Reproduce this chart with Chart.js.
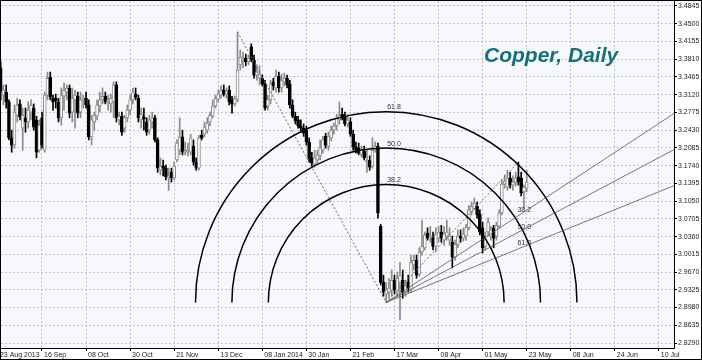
<!DOCTYPE html>
<html>
<head>
<meta charset="utf-8">
<script src="https://cdn.jsdelivr.net/npm/chart.js@4.4.0/dist/chart.umd.min.js"></script>
<style>
html, body { margin: 0; padding: 0; background: #fff; }
#wrap { width: 700px; height: 358px; border: 1px solid #000; }
</style>
</head>
<body>
<div id="wrap"><canvas id="copperDaily" width="700" height="358"></canvas></div>
<script>
// daily bars, numbered from firstBar (bar 0 = 23 Aug 2013)
var firstBar = 1;

var copperOpen = [
3.364, 3.311, 3.317, 3.298, 3.228, 3.214, 3.272, 3.294, 3.247, 3.267,
3.259, 3.278, 3.286, 3.263, 3.204, 3.267, 3.204, 3.311, 3.346, 3.305,
3.305, 3.298, 3.267, 3.309, 3.317, 3.325, 3.278, 3.302, 3.309, 3.278,
3.302, 3.305, 3.292, 3.230, 3.259, 3.270, 3.290, 3.302, 3.309, 3.298,
3.294, 3.298, 3.331, 3.263, 3.270, 3.247, 3.267, 3.282, 3.302, 3.313,
3.305, 3.263, 3.269, 3.259, 3.243, 3.259, 3.267, 3.224, 3.165, 3.173,
3.169, 3.150, 3.161, 3.150, 3.185, 3.204, 3.230, 3.200, 3.200, 3.200,
3.212, 3.181, 3.169, 3.233, 3.235, 3.243, 3.259, 3.270, 3.290, 3.303,
3.311, 3.321, 3.313, 3.321, 3.302, 3.294, 3.302, 3.370, 3.379, 3.383,
3.376, 3.405, 3.379, 3.350, 3.344, 3.344, 3.333, 3.290, 3.302, 3.337,
3.325, 3.348, 3.325, 3.337, 3.344, 3.333, 3.292, 3.270, 3.263, 3.251,
3.247, 3.243, 3.220, 3.189, 3.177, 3.185, 3.193, 3.204, 3.231, 3.212,
3.228, 3.243, 3.251, 3.263, 3.274, 3.270, 3.255, 3.259, 3.235, 3.210,
3.208, 3.196, 3.202, 3.181, 3.185, 3.173, 3.204, 3.212, 3.056, 2.947,
2.924, 2.928, 2.932, 2.951, 2.928, 2.947, 2.951, 2.928, 2.947, 2.932,
2.981, 2.990, 2.963, 3.006, 3.014, 3.043, 3.033, 3.033, 3.017, 3.033,
3.045, 3.029, 3.037, 3.029, 3.025, 2.996, 3.021, 3.037, 3.033, 3.037,
3.053, 3.084, 3.091, 3.095, 3.080, 3.053, 3.017, 3.045, 3.037, 3.053,
3.037, 3.056, 3.082, 3.138, 3.132, 3.150, 3.136, 3.142, 3.152, 3.150,
3.123, 3.130
];

var copperHigh = [
3.376, 3.331, 3.331, 3.302, 3.243, 3.292, 3.305, 3.302, 3.286, 3.286,
3.298, 3.302, 3.294, 3.270, 3.263, 3.278, 3.317, 3.356, 3.356, 3.311,
3.313, 3.305, 3.325, 3.335, 3.331, 3.331, 3.325, 3.321, 3.317, 3.317,
3.311, 3.317, 3.302, 3.272, 3.278, 3.302, 3.317, 3.325, 3.317, 3.311,
3.313, 3.337, 3.337, 3.278, 3.278, 3.272, 3.292, 3.311, 3.325, 3.325,
3.311, 3.286, 3.286, 3.267, 3.272, 3.278, 3.272, 3.228, 3.189, 3.185,
3.175, 3.169, 3.169, 3.181, 3.224, 3.267, 3.243, 3.220, 3.218, 3.235,
3.224, 3.189, 3.233, 3.243, 3.259, 3.267, 3.278, 3.302, 3.311, 3.321,
3.329, 3.331, 3.325, 3.329, 3.309, 3.309, 3.434, 3.399, 3.395, 3.391,
3.389, 3.411, 3.389, 3.370, 3.368, 3.350, 3.340, 3.311, 3.340, 3.344,
3.360, 3.356, 3.352, 3.354, 3.350, 3.340, 3.302, 3.278, 3.270, 3.263,
3.255, 3.251, 3.228, 3.200, 3.204, 3.204, 3.224, 3.231, 3.237, 3.239,
3.251, 3.257, 3.274, 3.298, 3.286, 3.278, 3.274, 3.267, 3.243, 3.220,
3.218, 3.212, 3.212, 3.204, 3.193, 3.228, 3.220, 3.218, 3.060, 2.961,
2.947, 2.955, 2.971, 2.961, 2.967, 2.986, 2.971, 2.951, 2.961, 3.000,
3.000, 3.000, 3.014, 3.068, 3.045, 3.053, 3.056, 3.045, 3.053, 3.056,
3.058, 3.056, 3.068, 3.053, 3.037, 3.029, 3.049, 3.049, 3.053, 3.060,
3.097, 3.103, 3.111, 3.103, 3.088, 3.064, 3.045, 3.072, 3.056, 3.058,
3.064, 3.088, 3.146, 3.156, 3.165, 3.161, 3.154, 3.161, 3.181, 3.161,
3.136, 3.165
];

var copperLow = [
3.302, 3.292, 3.286, 3.224, 3.200, 3.208, 3.259, 3.263, 3.204, 3.239,
3.247, 3.263, 3.243, 3.189, 3.200, 3.208, 3.200, 3.302, 3.302, 3.282,
3.286, 3.259, 3.253, 3.282, 3.302, 3.267, 3.259, 3.247, 3.267, 3.267,
3.286, 3.286, 3.224, 3.214, 3.243, 3.263, 3.278, 3.294, 3.294, 3.282,
3.278, 3.267, 3.259, 3.253, 3.233, 3.239, 3.259, 3.272, 3.294, 3.302,
3.259, 3.247, 3.243, 3.233, 3.235, 3.247, 3.220, 3.161, 3.156, 3.154,
3.146, 3.126, 3.142, 3.146, 3.181, 3.195, 3.195, 3.195, 3.193, 3.195,
3.175, 3.165, 3.165, 3.224, 3.230, 3.237, 3.251, 3.267, 3.286, 3.298,
3.305, 3.309, 3.305, 3.292, 3.276, 3.290, 3.298, 3.360, 3.364, 3.368,
3.370, 3.376, 3.344, 3.340, 3.331, 3.329, 3.282, 3.282, 3.294, 3.321,
3.317, 3.317, 3.317, 3.329, 3.325, 3.286, 3.267, 3.255, 3.247, 3.239,
3.231, 3.214, 3.181, 3.171, 3.171, 3.179, 3.185, 3.198, 3.208, 3.204,
3.222, 3.235, 3.243, 3.255, 3.263, 3.251, 3.249, 3.231, 3.204, 3.198,
3.195, 3.191, 3.185, 3.161, 3.165, 3.169, 3.200, 3.072, 2.942, 2.920,
2.908, 2.916, 2.920, 2.924, 2.920, 2.874, 2.916, 2.920, 2.928, 2.928,
2.971, 2.955, 2.959, 3.000, 3.010, 3.029, 3.025, 3.010, 3.006, 3.025,
3.025, 3.019, 3.029, 3.019, 2.975, 2.990, 3.015, 3.025, 3.027, 3.029,
3.049, 3.078, 3.088, 3.072, 3.039, 3.004, 3.010, 3.037, 3.029, 3.014,
3.029, 3.053, 3.078, 3.130, 3.126, 3.130, 3.126, 3.134, 3.136, 3.115,
3.091, 3.123
];

var copperClose = [
3.317, 3.321, 3.298, 3.228, 3.214, 3.278, 3.292, 3.269, 3.272, 3.259,
3.282, 3.292, 3.249, 3.200, 3.253, 3.214, 3.311, 3.344, 3.307, 3.298,
3.300, 3.267, 3.311, 3.321, 3.325, 3.276, 3.305, 3.311, 3.276, 3.302,
3.305, 3.292, 3.230, 3.263, 3.272, 3.292, 3.302, 3.309, 3.298, 3.302,
3.305, 3.331, 3.267, 3.270, 3.239, 3.267, 3.282, 3.302, 3.317, 3.307,
3.267, 3.274, 3.265, 3.239, 3.263, 3.267, 3.224, 3.169, 3.173, 3.169,
3.152, 3.154, 3.150, 3.173, 3.218, 3.230, 3.200, 3.204, 3.204, 3.228,
3.181, 3.169, 3.228, 3.228, 3.249, 3.257, 3.272, 3.290, 3.305, 3.313,
3.321, 3.313, 3.319, 3.298, 3.294, 3.305, 3.360, 3.385, 3.383, 3.376,
3.383, 3.379, 3.350, 3.356, 3.352, 3.333, 3.286, 3.302, 3.333, 3.329,
3.348, 3.325, 3.340, 3.344, 3.331, 3.292, 3.270, 3.261, 3.251, 3.247,
3.237, 3.220, 3.189, 3.179, 3.189, 3.195, 3.208, 3.224, 3.214, 3.231,
3.243, 3.251, 3.267, 3.272, 3.267, 3.255, 3.263, 3.235, 3.210, 3.204,
3.198, 3.204, 3.189, 3.185, 3.171, 3.204, 3.212, 3.082, 2.947, 2.928,
2.932, 2.936, 2.951, 2.932, 2.955, 2.961, 2.928, 2.940, 2.936, 2.986,
2.990, 2.961, 3.006, 3.017, 3.039, 3.033, 3.037, 3.017, 3.041, 3.045,
3.033, 3.041, 3.045, 3.037, 2.996, 3.021, 3.037, 3.033, 3.041, 3.054,
3.088, 3.095, 3.101, 3.078, 3.045, 3.014, 3.029, 3.064, 3.049, 3.033,
3.058, 3.082, 3.138, 3.144, 3.150, 3.136, 3.142, 3.150, 3.142, 3.121,
3.132, 3.142
];

// date labels, one every 16 bars starting at bar 0
var dateLabels = ["23 Aug 2013", "16 Sep", "08 Oct", "30 Oct", "21 Nov", "13 Dec", "08 Jan 2014", "30 Jan",
                  "21 Feb", "17 Mar", "08 Apr", "01 May", "23 May", "08 Jun", "24 Jun", "10 Jul"];
var barsPerLabel = 16;

var priceTicks = [2.8290, 2.8635, 2.8980, 2.9325, 2.9670, 3.0015, 3.0360, 3.0705, 3.1050, 3.1395,
                  3.1740, 3.2085, 3.2430, 3.2775, 3.3120, 3.3465, 3.3810, 3.4155, 3.4500, 3.4845];

// fibonacci tools: arcs from the Dec high to the Mar low, fan from the Mar low to the May high
var fiboLevels = [0.382, 0.5, 0.618];
var fiboNames = ["38.2", "50.0", "61.8"];
var arcHighBar = 87, arcLowBar = 141, fanHighBar = 189;

const tickFont = { family: '"Liberation Sans", Arial, sans-serif', size: 7 };

var wickData = [], bodyData = [], isUp = [];
for (var k = 0; k < copperOpen.length; k++) {
    wickData.push({ x: firstBar + k, y: [copperLow[k], copperHigh[k]] });
    bodyData.push({ x: firstBar + k, y: [copperOpen[k], copperClose[k]] });
    isUp.push(copperClose[k] >= copperOpen[k]);
}

const plotBackground = {
    id: 'plotBackground',
    beforeDraw(chart) {
        const { ctx, chartArea: a } = chart;
        ctx.save();
        ctx.fillStyle = '#f7f8fc';
        ctx.fillRect(a.left, a.top, a.right - a.left, a.bottom - a.top);
        ctx.restore();
    }
};

const fiboTools = {
    id: 'fiboTools',
    afterDatasetsDraw(chart) {
        const { ctx, chartArea: a } = chart;
        const xs = chart.scales.x, ys = chart.scales.y;
        const pt = (bar, price) => ({ x: xs.getPixelForValue(bar), y: ys.getPixelForValue(price) });
        const top = pt(arcHighBar, copperHigh[arcHighBar - firstBar]);
        const low = pt(arcLowBar, copperLow[arcLowBar - firstBar]);
        const fanTop = pt(fanHighBar, copperHigh[fanHighBar - firstBar]);

        function seg(p, q) { ctx.beginPath(); ctx.moveTo(p.x, p.y); ctx.lineTo(q.x, q.y); ctx.stroke(); }

        ctx.save();
        ctx.beginPath();
        ctx.rect(a.left, a.top, a.right - a.left, a.bottom - a.top);
        ctx.clip();

        ctx.strokeStyle = '#6a6a6a';
        ctx.lineWidth = 1;
        ctx.setLineDash([2, 2]);
        seg(top, low);
        seg(low, fanTop);
        ctx.setLineDash([]);

        ctx.font = '7px "Liberation Sans", Arial, sans-serif';
        ctx.fillStyle = '#333';
        ctx.textAlign = 'left';
        ctx.textBaseline = 'bottom';

        // arcs
        const r0 = Math.hypot(top.x - low.x, top.y - low.y);
        ctx.strokeStyle = '#000';
        ctx.lineWidth = 1.5;
        fiboLevels.forEach(function (lv, k) {
            const r = lv * r0;
            ctx.beginPath();
            ctx.arc(low.x, low.y, r, Math.PI, 2 * Math.PI);
            ctx.stroke();
            ctx.fillText(fiboNames[k], low.x + 1, low.y - r - 1);
        });

        // fan
        ctx.strokeStyle = '#555';
        ctx.lineWidth = 0.8;
        fiboLevels.forEach(function (lv, k) {
            const qx = fanTop.x, qy = fanTop.y + lv * (low.y - fanTop.y);
            const slope = (qy - low.y) / (qx - low.x);
            seg(low, { x: a.right, y: low.y + slope * (a.right - low.x) });
            ctx.fillText(fiboNames[k], qx - 1, qy - 2);
        });

        // title
        ctx.font = 'italic bold 21px "Liberation Sans", Arial, sans-serif';
        ctx.fillStyle = '#16707a';
        ctx.textBaseline = 'alphabetic';
        ctx.fillText('Copper, Daily', 483, 61);
        ctx.restore();
    }
};

var copperCtx = document.getElementById('copperDaily').getContext('2d');

var copperChart = new Chart(copperCtx, {
    type: 'bar',
    data: {
        datasets: [{
            data: wickData,
            grouped: false,
            order: 2,
            barThickness: 1,
            borderWidth: 0,
            backgroundColor: c => isUp[c.dataIndex] ? '#8a8a8a' : '#000'
        }, {
            data: bodyData,
            grouped: false,
            order: 1,
            barThickness: 3,
            borderWidth: 1,
            borderSkipped: false,
            backgroundColor: c => isUp[c.dataIndex] ? '#fff' : '#000',
            borderColor: c => isUp[c.dataIndex] ? '#8a8a8a' : '#000'
        }]
    },
    options: {
        responsive: false,
        animation: false,
        layout: { padding: 0 },
        plugins: { legend: { display: false }, tooltip: { enabled: false } },
        scales: {
            x: {
                type: 'linear',
                min: 1.115,
                max: 245.5,
                offset: false,
                afterBuildTicks: s => { s.ticks = dateLabels.map((t, k) => ({ value: k * barsPerLabel })); },
                afterFit: s => { s.height = 11; s.paddingLeft = 0; s.paddingRight = 0; },
                ticks: {
                    autoSkip: false, maxRotation: 0, align: 'start', padding: 0, labelOffset: 2,
                    font: tickFont, color: '#222',
                    callback: (v, i) => dateLabels[i]
                },
                grid: { offset: false, color: '#c4c4c4', lineWidth: 1, tickColor: '#000', tickLength: 3 },
                border: { color: '#000', width: 1, dash: [2, 2] }
            },
            y: {
                position: 'right',
                min: 2.8193,
                max: 3.4942,
                afterBuildTicks: s => { s.ticks = priceTicks.map(v => ({ value: v })); },
                afterFit: s => { s.width = 27; s.paddingTop = 0; s.paddingBottom = 0; },
                ticks: {
                    autoSkip: false, padding: 1, font: tickFont, color: '#222',
                    callback: v => v.toFixed(4)
                },
                grid: { color: '#c4c4c4', lineWidth: 1, tickColor: '#000', tickLength: 3 },
                border: { color: '#000', width: 1, dash: [2, 2] }
            }
        }
    },
    plugins: [plotBackground, fiboTools]
});
</script>
</body>
</html>
